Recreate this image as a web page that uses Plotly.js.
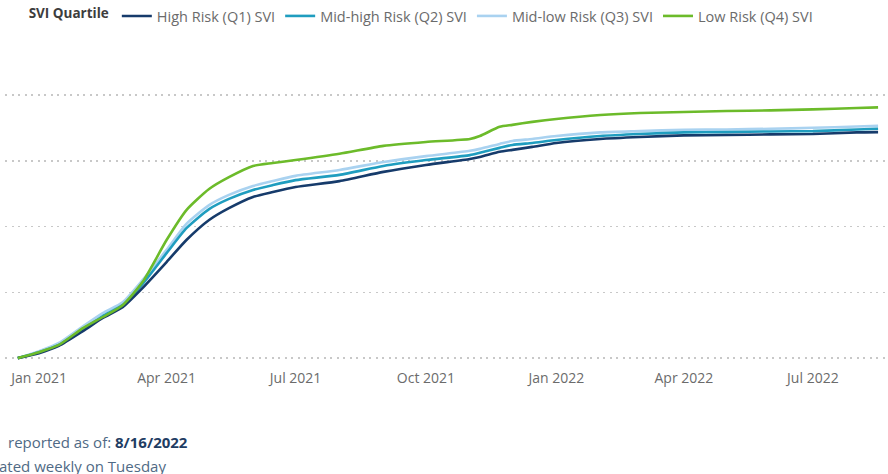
<!DOCTYPE html>
<html>
<head>
<meta charset="utf-8">
<script src="https://cdn.plot.ly/plotly-3.0.1.min.js"></script>
<style>
html,body{margin:0;padding:0;background:#fff;}
#chart{width:888px;height:474px;}
</style>
</head>
<body>
<div id="chart"></div>
<script>
// Dates (approximate reading points)
var dates = [
  "2020-12-17","2021-01-01","2021-01-15","2021-02-01","2021-02-15","2021-03-01",
  "2021-03-15","2021-04-01","2021-04-15","2021-05-01","2021-05-15","2021-06-01",
  "2021-06-15","2021-07-01","2021-08-01","2021-09-01","2021-10-01","2021-11-01",
  "2021-11-08","2021-11-22","2021-12-01","2021-12-15","2022-01-01","2022-02-01",
  "2022-03-01","2022-04-01","2022-05-01","2022-06-01","2022-07-01","2022-08-01",
  "2022-08-16"
];
// Series values (arbitrary % scale)
var q1High = [0,1.5,3.7,8.2,12.2,15.5,21.3,29.2,35.9,42.0,45.6,49.0,50.5,52.0,53.8,56.6,58.7,60.5,61.1,62.7,63.3,64.2,65.4,66.6,67.2,67.7,67.8,68.0,68.1,68.6,68.7];
var q2MidHigh = [0,1.8,4.0,8.8,12.8,16.1,22.5,31.9,39.5,45.3,48.4,51.1,52.6,54.1,55.7,58.4,60.2,61.7,62.4,63.9,64.8,65.4,66.3,67.5,68.1,68.6,68.7,68.9,69.0,69.5,69.7];
var q3MidLow = [0,2.1,4.6,9.7,13.7,17.0,23.7,32.9,40.8,46.5,49.6,52.3,53.8,55.4,57.2,59.6,61.4,63.0,63.6,65.1,66.0,66.6,67.5,68.6,69.0,69.4,69.5,69.7,70.0,70.4,70.6];
var q4Low = [0,1.8,4.0,9.1,12.5,16.1,23.1,35.9,45.0,51.4,55.0,58.4,59.3,60.2,62.1,64.5,65.7,66.6,67.5,70.3,70.9,71.8,72.7,73.9,74.5,74.8,75.1,75.3,75.6,76.0,76.2];

var seriesNames = ["High Risk (Q1) SVI","Mid-high Risk (Q2) SVI","Mid-low Risk (Q3) SVI","Low Risk (Q4) SVI"];
var seriesColors = ["#163b6b","#1f9dbf","#a9d2f0","#6cbb2a"];
var seriesData = [q1High,q2MidHigh,q3MidLow,q4Low];

var drawOrder = [2,1,0,3];
var traces = [];
var legendRank = {0:1,1:2,2:3,3:4};
drawOrder.forEach(function(i){
  traces.push({
    type:"scatter", mode:"lines", x:dates, y:seriesData[i],
    name:seriesNames[i], line:{color:seriesColors[i], width:2.6, shape:"spline", smoothing:0.6},
    legendrank:legendRank[i], hoverinfo:"skip"
  });
});

var font = "'Open Sans', 'Noto Sans', sans-serif";
var layout = {
  width:888, height:474,
  margin:{l:5, r:0, t:62, b:106},
  paper_bgcolor:"#fff", plot_bgcolor:"#fff",
  font:{family:font, size:14, color:"#6b6b6b"},
  showlegend:true,
  legend:{
    orientation:"h", xref:"container", yref:"container", x:0.03, y:1.0, xanchor:"left", yanchor:"top",
    title:{text:"<b>SVI Quartile</b>", font:{size:13.5, color:"#3d3d3d"}, side:"left"},
    font:{size:14.5, color:"#6b6b6b"}, traceorder:"normal", itemwidth:30, bgcolor:"rgba(0,0,0,0)"
  },
  xaxis:{
    type:"date", range:["2020-12-08","2022-08-23"], tick0:"2021-01-01", dtick:"M3",
    tickformat:"%b %Y", showgrid:false, zeroline:false, showline:false, ticks:"",
    tickfont:{size:14, color:"#6b6b6b"}, fixedrange:true
  },
  yaxis:{
    range:[-3,90], tickvals:[0,20,40,60,80], showticklabels:false, showgrid:true,
    gridcolor:"#c8c8c8", gridwidth:1.6, griddash:"2px,4.5px", zeroline:false, showline:false, ticks:"", fixedrange:true
  },
  annotations:[
    {xref:"paper", yref:"paper", x:0, y:0, xanchor:"left", yanchor:"top", xshift:1, yshift:-62,
     text:"reported as of: <b><span style='color:#1f3d63'>8/16/2022</span></b>", showarrow:false,
     font:{size:15, color:"#4f6a85"}},
    {xref:"paper", yref:"paper", x:0, y:0, xanchor:"left", yanchor:"top", xshift:-8, yshift:-86,
     text:"ated weekly on Tuesday", showarrow:false, font:{size:15, color:"#4f6a85"}}
  ]
};
Plotly.newPlot("chart", traces, layout, {displayModeBar:false, staticPlot:true});
</script>
</body>
</html>
